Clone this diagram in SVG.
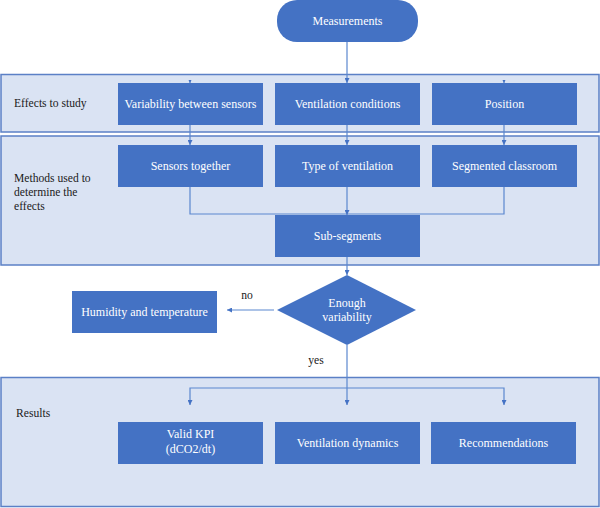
<svg xmlns="http://www.w3.org/2000/svg" width="600" height="508" viewBox="0 0 600 508">
<style>
.band{fill:#dae3f3;stroke:#5b80c6;stroke-width:1.5}
.box{fill:#4472c4}
.bt{font-family:"Liberation Serif","Times New Roman",serif;font-size:12px;fill:#ffffff;text-anchor:middle}
.lbl{font-family:"Liberation Serif","Times New Roman",serif;font-size:11.6px;fill:#1a1a1a}
.con{fill:none;stroke:#5b87cf;stroke-width:1.2}
</style>
<defs>
<marker id="ah" viewBox="0 0 10 10" refX="10" refY="5" markerWidth="5" markerHeight="5" markerUnits="userSpaceOnUse" orient="auto">
<path d="M0,0 L10,5 L0,10 z" fill="#4472c4"/>
</marker>
<marker id="ahs" viewBox="0 0 10 10" refX="10" refY="5" markerWidth="3.5" markerHeight="3.5" markerUnits="userSpaceOnUse" orient="auto">
<path d="M0,0 L10,5 L0,10 z" fill="#4472c4"/>
</marker>
</defs>
<rect width="600" height="508" fill="#ffffff"/>
<g id="band-effects">
<rect class="band" x="1" y="74.5" width="598" height="57.5"/>
<text class="lbl" x="14" y="107">Effects to study</text>
</g>
<g id="band-methods">
<rect class="band" x="1" y="136" width="598" height="129"/>
<text class="lbl" x="14" y="182">Methods used to</text>
<text class="lbl" x="14" y="196">determine the</text>
<text class="lbl" x="14" y="210">effects</text>
</g>
<g id="band-results">
<rect class="band" x="1" y="377.5" width="598" height="129"/>
<text class="lbl" x="16" y="417">Results</text>
</g>
<g id="connectors">
<path class="con" d="M347,42 V83" marker-end="url(#ah)"/>
<path class="con" d="M190,80 V83" marker-end="url(#ahs)"/>
<path class="con" d="M504,80 V83" marker-end="url(#ahs)"/>
<path class="con" d="M190,125 V145" marker-end="url(#ah)"/>
<path class="con" d="M347,125 V145" marker-end="url(#ah)"/>
<path class="con" d="M504,125 V145" marker-end="url(#ah)"/>
<path class="con" d="M190,187 V214 H504 V187"/>
<path class="con" d="M347,187 V215" marker-end="url(#ah)"/>
<path class="con" d="M347,257 V275" marker-end="url(#ah)"/>
<path class="con" d="M274,310 H227" marker-end="url(#ah)"/>
<path class="con" d="M347,345 V405" marker-end="url(#ah)"/>
<path class="con" d="M347,388 H190 V405" marker-end="url(#ah)"/>
<path class="con" d="M347,388 H504 V405" marker-end="url(#ah)"/>
</g>
<g id="measurements">
<rect class="box" x="277" y="0" width="141" height="42" rx="20"/>
<text class="bt" x="347.5" y="24.5">Measurements</text>
</g>
<g id="variability">
<rect class="box" x="118" y="83" width="145" height="42"/>
<text class="bt" x="190.5" y="108">Variability between sensors</text>
</g>
<g id="ventilation-conditions">
<rect class="box" x="275" y="83" width="145" height="42"/>
<text class="bt" x="347.5" y="108">Ventilation conditions</text>
</g>
<g id="position">
<rect class="box" x="432" y="83" width="145" height="42"/>
<text class="bt" x="504.5" y="108">Position</text>
</g>
<g id="sensors-together">
<rect class="box" x="118" y="145" width="145" height="42"/>
<text class="bt" x="190.5" y="170">Sensors together</text>
</g>
<g id="type-of-ventilation">
<rect class="box" x="275" y="145" width="145" height="42"/>
<text class="bt" x="347.5" y="170">Type of ventilation</text>
</g>
<g id="segmented-classroom">
<rect class="box" x="432" y="145" width="145" height="42"/>
<text class="bt" x="504.5" y="170">Segmented classroom</text>
</g>
<g id="sub-segments">
<rect class="box" x="275" y="215" width="145" height="42"/>
<text class="bt" x="347.5" y="240">Sub-segments</text>
</g>
<g id="enough-variability">
<polygon class="box" points="347,275 416,310 347,345 277,310"/>
<text class="bt" x="347" y="306.5">Enough</text>
<text class="bt" x="347" y="321">variability</text>
</g>
<g id="humidity-temperature">
<rect class="box" x="72" y="291" width="145" height="42"/>
<text class="bt" x="144.5" y="315.5">Humidity and temperature</text>
</g>
<text class="lbl" x="247" y="299" text-anchor="middle">no</text>
<text class="lbl" x="316" y="364" text-anchor="middle">yes</text>
<g id="valid-kpi">
<rect class="box" x="118" y="422" width="145" height="42"/>
<text class="bt" x="190.5" y="438">Valid KPI</text>
<text class="bt" x="190.5" y="453">(dCO2/dt)</text>
</g>
<g id="ventilation-dynamics">
<rect class="box" x="275" y="422" width="145" height="42"/>
<text class="bt" x="347.5" y="447">Ventilation dynamics</text>
</g>
<g id="recommendations">
<rect class="box" x="431" y="422" width="145" height="42"/>
<text class="bt" x="503.5" y="447">Recommendations</text>
</g>
</svg>
